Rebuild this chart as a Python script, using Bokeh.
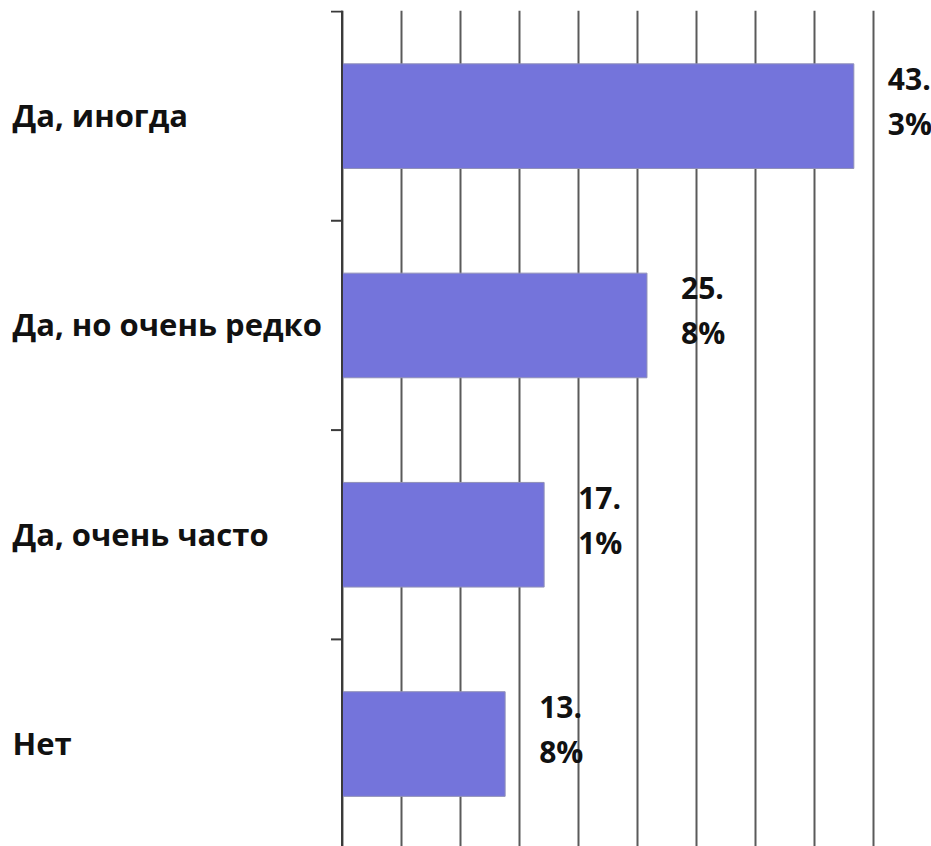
import math
from bokeh.plotting import figure
from bokeh.models import Range1d, FixedTicker, Grid, Span, ColumnDataSource
from bokeh.core.properties import value
from bokeh.embed import file_html
from bokeh.resources import INLINE

# ---- data ----
categories = ["Да, иногда", "Да, но очень редко", "Да, очень часто", "Нет"]
percents = [43.3, 25.8, 17.1, 13.8]
grid_ticks = [0, 5, 10, 15, 20, 25, 30, 35, 40, 45]
boundary_ticks = [0, 1, 2, 3, 4]

n = len(categories)
centers = [n - i - 0.5 for i in range(n)]
labels = [("%.1f%%" % v).replace(".", ".\n") for v in percents]

src = ColumnDataSource(dict(cat=categories, val=percents, y=centers, lab=labels))

FONT = "Open Sans"
AXIS_COLOR = "#3a3a3a"

# frame spans the whole canvas; x = 0 (value axis origin) sits at 341.5 px
p = figure(width=931, height=846, output_backend="svg", toolbar_location=None,
           x_range=Range1d(-28.89, 49.87), y_range=Range1d(0.0105, 4.0048),
           x_axis_location=None, y_axis_location=None,
           min_border_left=0, min_border_right=0, min_border_top=10,
           min_border_bottom=0)
p.outline_line_color = None
p.background_fill_color = "white"
p.border_fill_color = "white"

# hide the default grids, then add vertical gridlines every 5 %
p.xgrid.visible = False
p.ygrid.visible = False
g = Grid(dimension=0, ticker=FixedTicker(ticks=grid_ticks),
         grid_line_color="#5a5a5a", grid_line_width=2)
p.add_layout(g)

# category axis: line at value 0, ticks at category boundaries
p.add_layout(Span(location=0, dimension="height", line_color=AXIS_COLOR, line_width=2))
p.ray(x=[0] * len(boundary_ticks), y=boundary_ticks, length=11, length_units="screen",
      angle=math.pi, line_color=AXIS_COLOR, line_width=2)

p.hbar(y="y", right="val", left=0, height=0.5, source=src,
       fill_color="#7474DB", line_color="#9090b8", line_width=1)

# value labels (wrapped like the original)
p.text(x="val", y="y", text="lab", source=src, x_offset=34, y_offset=-15,
       text_font=value(FONT), text_font_style="bold", text_font_size="30px",
       text_color="#111111", text_align="left", text_baseline="middle",
       text_line_height=1.1)

# category labels, left aligned near the left edge
p.text(x=0, y="y", text="cat", source=src, x_offset=-329.5, y_offset=-1,
       text_font=value(FONT), text_font_style="bold", text_font_size="31px",
       text_color="#111111", text_align="left", text_baseline="middle")

open("out.html", "w").write(file_html(p, INLINE))
